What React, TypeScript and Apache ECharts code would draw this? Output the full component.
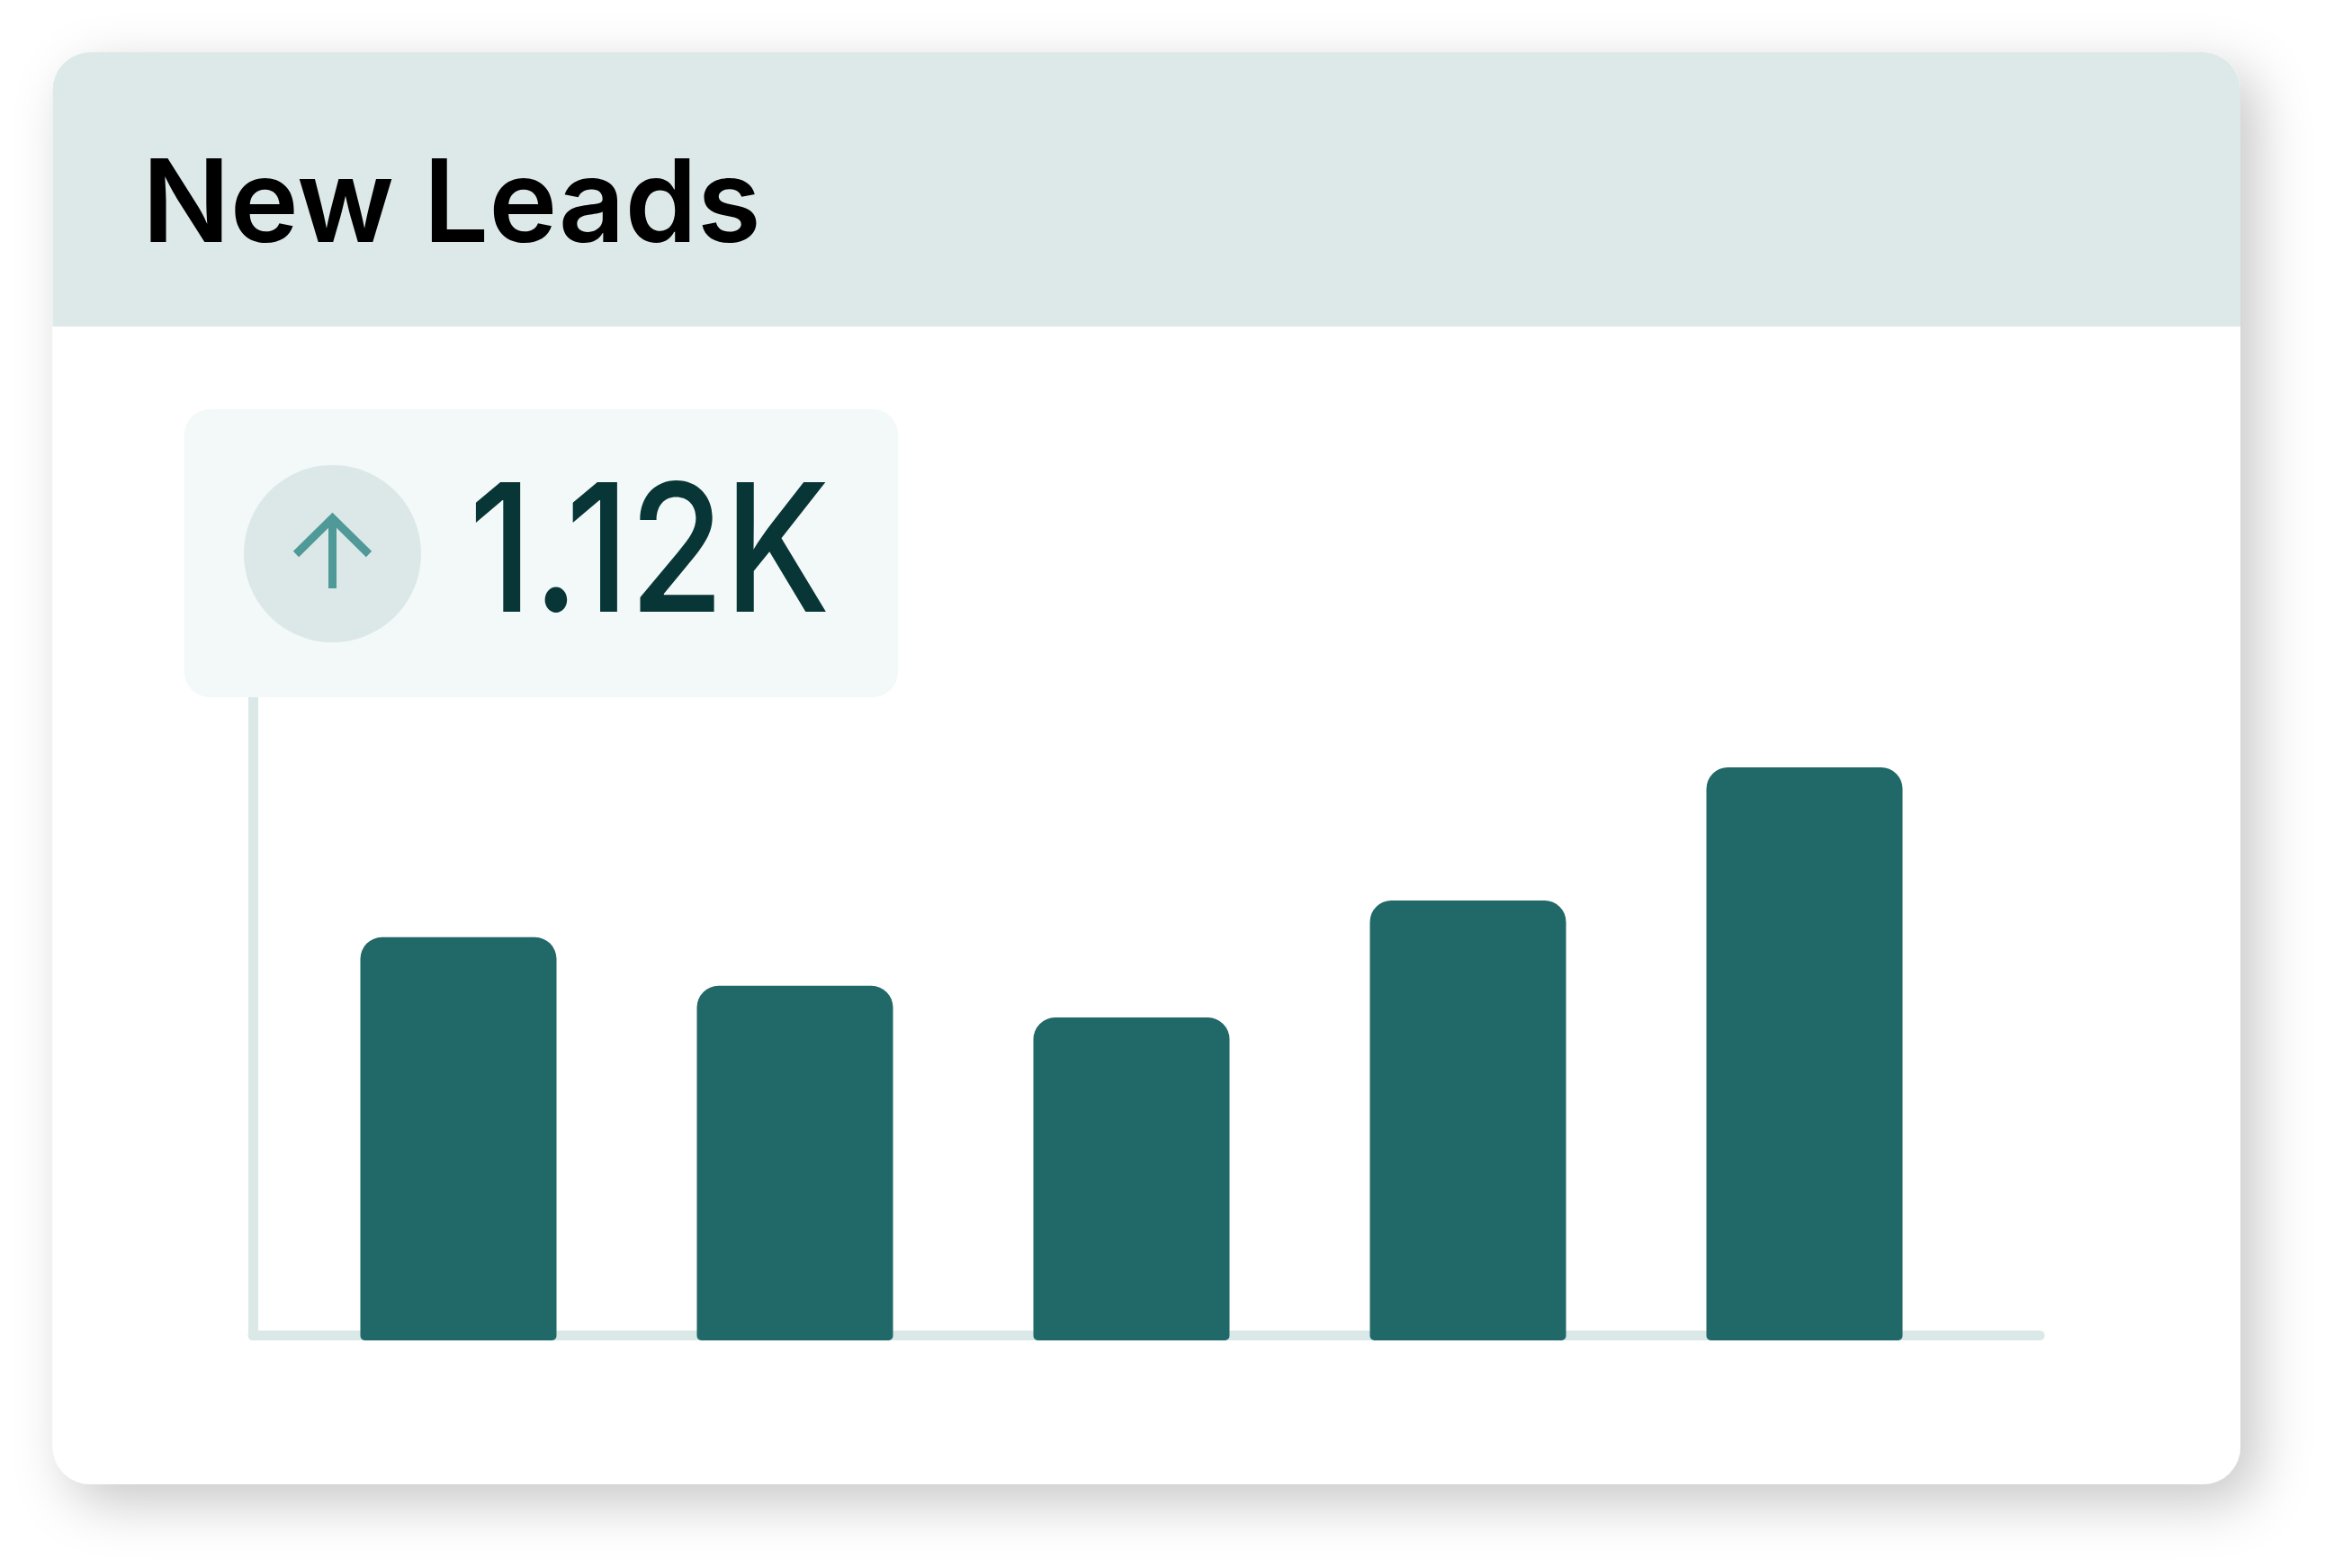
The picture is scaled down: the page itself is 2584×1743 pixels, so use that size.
import React, { useEffect, useRef } from "react";
import * as echarts from "echarts";

const titleText = "New Leads";
const kpiText = "1.12K";
const categories = ["1", "2", "3", "4", "5"];
const leads = [788, 693, 631, 860, 1120];

export default function App() {
  const ref = useRef<HTMLDivElement>(null);
  useEffect(() => {
    document.body.style.margin = "0";
    const chart = echarts.init(ref.current!, null, { renderer: "svg" });
    chart.setOption({
      animation: false,
      backgroundColor: "#ffffff",
      grid: [
        { left: 322.5, top: 853, width: 1870, height: 637 },
        { left: 281, top: 700, width: 1986, height: 784.5 },
      ],
      xAxis: [
        { type: "category", gridIndex: 0, data: categories, axisLine: { show: false }, axisTick: { show: false }, axisLabel: { show: false } },
        { type: "value", gridIndex: 1, min: 0, max: 1, splitLine: { show: false }, axisTick: { show: false }, axisLabel: { show: false },
          axisLine: { show: true, lineStyle: { color: "#dae9e8", width: 11, cap: "round" } } },
      ],
      yAxis: [
        { type: "value", gridIndex: 0, min: 0, max: 1120, axisLine: { show: false }, axisTick: { show: false }, axisLabel: { show: false }, splitLine: { show: false } },
        { type: "value", gridIndex: 1, min: 0, max: 1, splitLine: { show: false }, axisTick: { show: false }, axisLabel: { show: false },
          axisLine: { show: true, lineStyle: { color: "#dae9e8", width: 11, cap: "round" } } },
      ],
      series: [
        {
          type: "bar",
          xAxisIndex: 0,
          yAxisIndex: 0,
          data: leads,
          barWidth: 218,
          z: 5,
          itemStyle: { color: "#216868", borderRadius: [24, 24, 5, 5] },
        },
      ],
      graphic: [
        { type: "rect", z: -5, shape: { x: 58.5, y: 58, width: 2431.5, height: 1592, r: 42 },
          style: { fill: "#ffffff", shadowBlur: 60, shadowOffsetX: 18, shadowOffsetY: 20, shadowColor: "rgba(0,0,0,0.22)" } },
        { type: "rect", z: -4, shape: { x: 58.5, y: 58, width: 2431.5, height: 305, r: [42, 42, 0, 0] }, style: { fill: "#dde9e8" } },
        { type: "text", z: 20, x: 158, y: 222.5, scaleX: 1.006, style: { text: titleText, fill: "#000000", fontFamily: "Inter", fontWeight: 600, fontSize: 128, textAlign: "left", textVerticalAlign: "middle" } },
        { type: "rect", z: 10, shape: { x: 205, y: 455, width: 793, height: 320, r: 28 }, style: { fill: "#f3f8f8" } },
        { type: "circle", z: 11, shape: { cx: 369.5, cy: 615.5, r: 98.5 }, style: { fill: "#dce8e7" } },
        { type: "polyline", z: 12, shape: { points: [[329, 616], [369.5, 576], [410, 616]] }, style: { fill: "none", stroke: "#4f9a98", lineWidth: 9, lineJoin: "miter" } },
        { type: "line", z: 12, shape: { x1: 369.5, y1: 578, x2: 369.5, y2: 654 }, style: { stroke: "#4f9a98", lineWidth: 9 } },
        { type: "text", z: 20, x: 521, y: 608, scaleX: 0.863, style: { text: kpiText, fill: "#083535", fontFamily: "Inter", fontWeight: 500, fontSize: 198, textAlign: "left", textVerticalAlign: "middle" } },
      ],
    });
    return () => chart.dispose();
  }, []);
  return <div ref={ref} style={{ position: "absolute", left: 0, top: 0, width: 2584, height: 1743 }} />;
}
